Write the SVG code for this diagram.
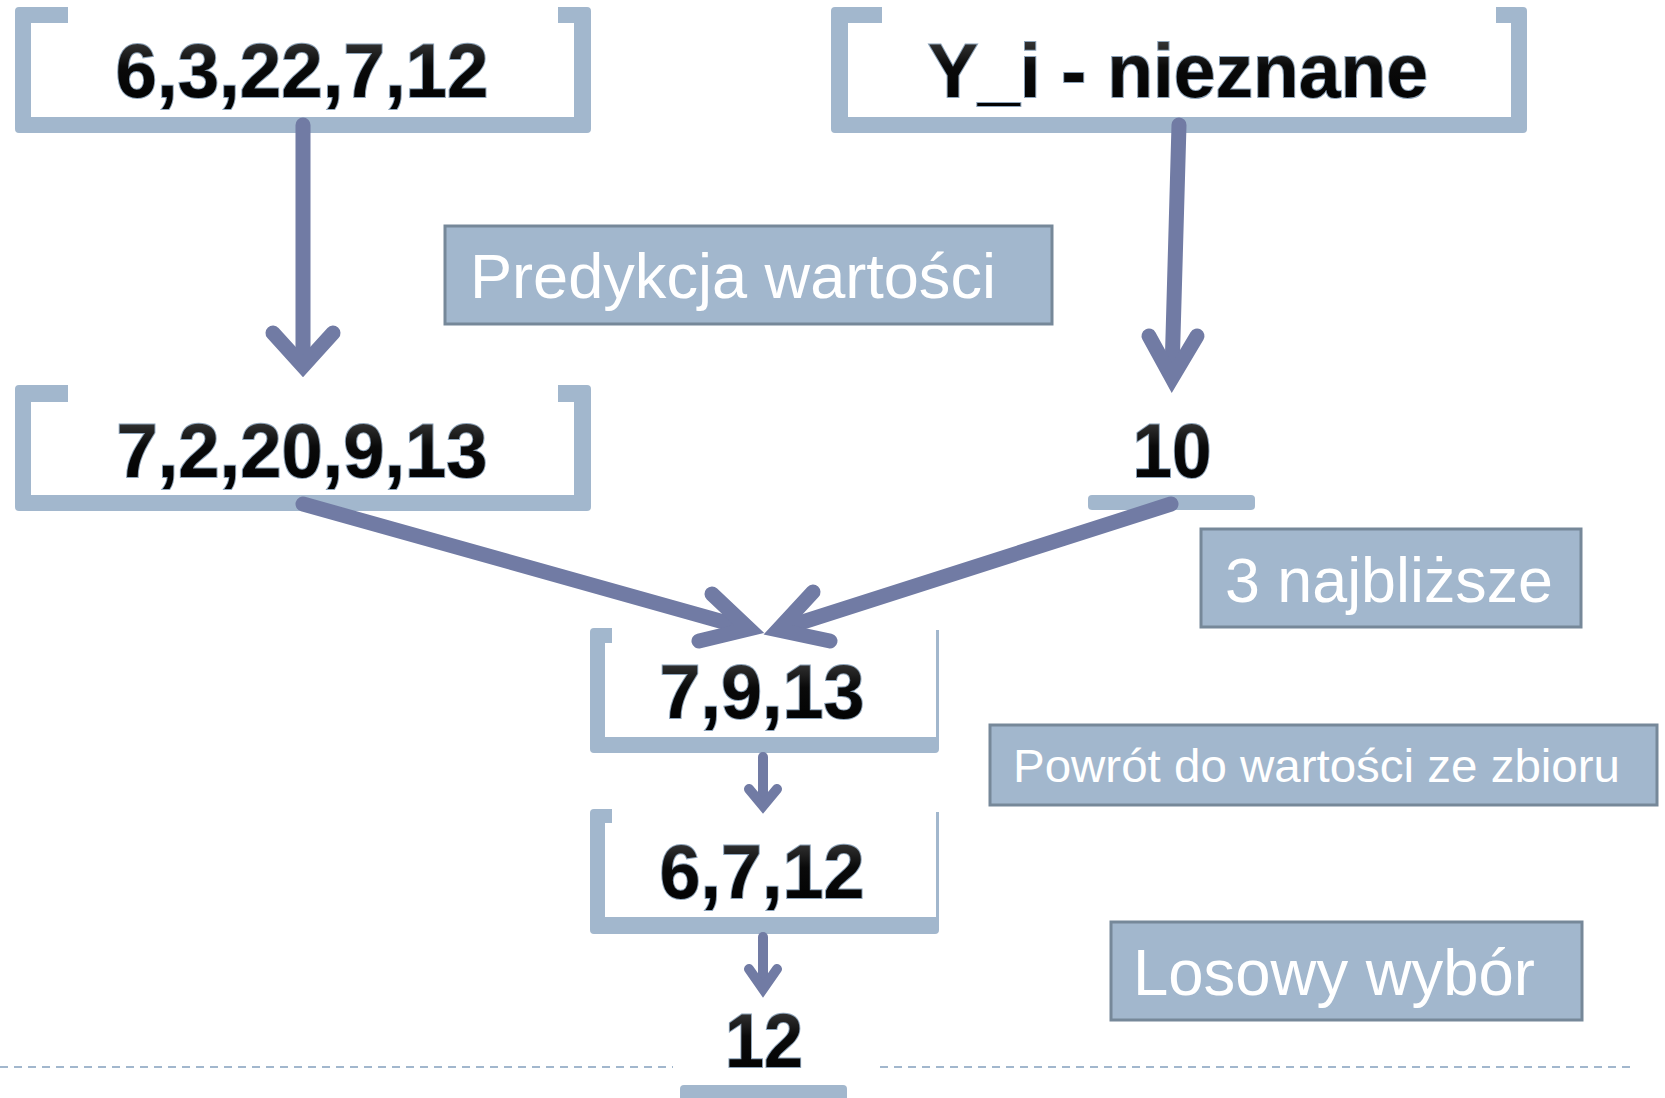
<svg xmlns="http://www.w3.org/2000/svg" width="1665" height="1098" viewBox="0 0 1665 1098">
<defs>
<linearGradient id="gloss" x1="0" y1="0" x2="0" y2="1">
<stop offset="0" stop-color="#4a4a4a"/>
<stop offset="0.45" stop-color="#0a0a0a"/>
<stop offset="1" stop-color="#000"/>
</linearGradient>
<style>
.br{fill:#a2b7cd}
.num{font-family:"Liberation Sans",Arial,sans-serif;font-weight:bold;font-size:76px;fill:url(#gloss);stroke:#8ea4ba;stroke-width:2;paint-order:stroke;text-anchor:middle}
.lbl rect{fill:#a2b7cd;stroke:#768899;stroke-width:3}
.lbl text{font-family:"Liberation Sans",Arial,sans-serif;fill:#ffffff}
.big{stroke:#717ba4;stroke-width:15;fill:none;stroke-linecap:round;stroke-linejoin:miter}
.small{stroke:#717ba4;stroke-width:10;fill:none;stroke-linecap:round;stroke-linejoin:miter}
.dash{stroke:#a2b7cd;stroke-width:2;stroke-dasharray:8 6;fill:none}
</style>
</defs>
<rect width="1665" height="1098" fill="#ffffff"/>

<g id="separator">
<line class="dash" x1="0" y1="1067" x2="673" y2="1067"/>
<line class="dash" x1="880" y1="1067" x2="1632" y2="1067"/>
</g>

<g id="node-input">
<path class="br" d="M15,11 Q15,7 19,7 L68,7 L68,23 L31,23 L31,117 L574,117 L574,23 L558,23 L558,7 L587,7 Q591,7 591,11 L591,129 Q591,133 587,133 L19,133 Q15,133 15,129 Z"/>
<text class="num" x="302" y="97" textLength="373" lengthAdjust="spacingAndGlyphs">6,3,22,7,12</text>
</g>

<g id="node-unknown">
<path class="br" d="M831,11 Q831,7 835,7 L882,7 L882,23 L848,23 L848,117 L1511,117 L1511,23 L1496,23 L1496,7 L1523,7 Q1527,7 1527,11 L1527,129 Q1527,133 1523,133 L835,133 Q831,133 831,129 Z"/>
<text class="num" x="1178" y="97" textLength="500" lengthAdjust="spacingAndGlyphs">Y_i - nieznane</text>
</g>

<g id="node-predicted">
<path class="br" d="M15,389 Q15,385 19,385 L68,385 L68,402 L31,402 L31,495 L574,495 L574,402 L558,402 L558,385 L587,385 Q591,385 591,389 L591,507 Q591,511 587,511 L19,511 Q15,511 15,507 Z"/>
<text class="num" x="302" y="477" textLength="371" lengthAdjust="spacingAndGlyphs">7,2,20,9,13</text>
</g>

<g id="node-ten">
<rect class="br" x="1088" y="495" width="167" height="15" rx="4"/>
<text class="num" x="1172" y="477" textLength="79" lengthAdjust="spacingAndGlyphs">10</text>
</g>

<g id="node-nearest">
<path class="br" d="M590,632 Q590,628 594,628 L612,628 L612,643 L605,643 L605,737 L936,737 L936,630 L939,630 L939,749 Q939,753 935,753 L594,753 Q590,753 590,749 Z"/>
<text class="num" x="762" y="718" textLength="205" lengthAdjust="spacingAndGlyphs">7,9,13</text>
</g>

<g id="node-original">
<path class="br" d="M590,813 Q590,809 594,809 L612,809 L612,823 L605,823 L605,917 L936,917 L936,812 L939,812 L939,930 Q939,934 935,934 L594,934 Q590,934 590,930 Z"/>
<text class="num" x="762" y="898" textLength="205" lengthAdjust="spacingAndGlyphs">6,7,12</text>
</g>

<g id="node-result">
<rect class="br" x="680" y="1085" width="167" height="20" rx="4"/>
<text class="num" x="764" y="1067" textLength="78" lengthAdjust="spacingAndGlyphs">12</text>
</g>

<g id="label-predykcja" class="lbl">
<rect x="445" y="226" width="607" height="98"/>
<text x="470" y="298" font-size="63" textLength="526" lengthAdjust="spacingAndGlyphs">Predykcja wartości</text>
</g>

<g id="label-najblizsze" class="lbl">
<rect x="1201" y="529" width="380" height="98"/>
<text x="1225" y="602" font-size="63" textLength="328" lengthAdjust="spacingAndGlyphs">3 najbliższe</text>
</g>

<g id="label-powrot" class="lbl">
<rect x="990" y="725" width="667" height="80"/>
<text x="1013" y="782" font-size="47" textLength="607" lengthAdjust="spacingAndGlyphs">Powrót do wartości ze zbioru</text>
</g>

<g id="label-losowy" class="lbl">
<rect x="1111" y="922" width="471" height="98"/>
<text x="1133" y="995" font-size="64" textLength="402" lengthAdjust="spacingAndGlyphs">Losowy wybór</text>
</g>

<g id="connectors">
<path class="big" d="M303,125 V358"/>
<path class="big" d="M273,333 L303,366 L333,333"/>
<path class="big" d="M1179,125 L1172,372"/>
<path class="big" d="M1149,336 L1172,378 L1197,336"/>
<path class="big" d="M303,504 L745,628"/>
<path class="big" d="M712,594 L749,629 L699,641"/>
<path class="big" d="M1171,504 L784,628"/>
<path class="big" d="M813,592 L778,630 L830,641"/>
<path class="small" d="M763,757 V802"/>
<path class="small" d="M749,789 L763,806 L777,789"/>
<path class="small" d="M763,937 V984"/>
<path class="small" d="M749,969 L763,989 L777,969"/>
</g>
</svg>
